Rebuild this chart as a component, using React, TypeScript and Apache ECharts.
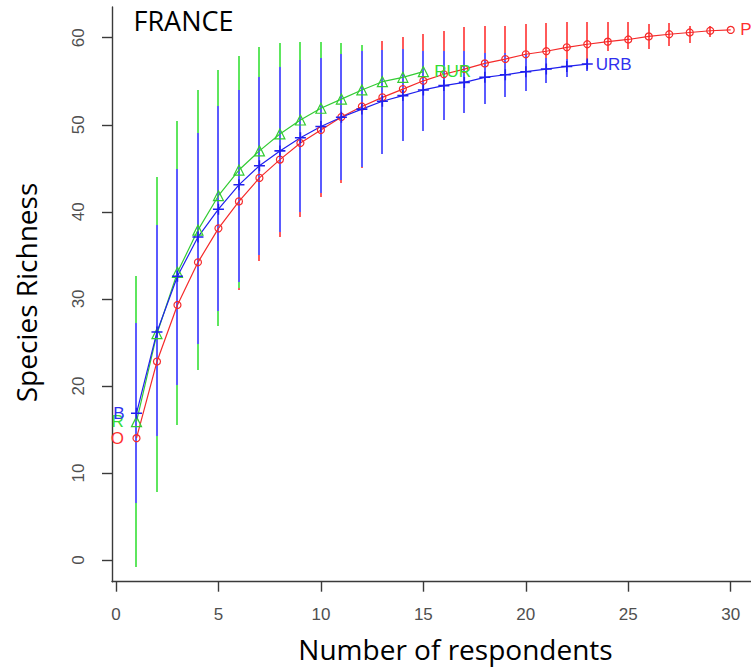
import React, { useEffect, useRef } from "react";
import * as echarts from "echarts";

// ---- data ----
const respondents = [1, 2, 3, 4, 5, 6, 7, 8, 9, 10, 11, 12, 13, 14, 15, 16, 17, 18, 19, 20, 21, 22, 23, 24, 25, 26, 27, 28, 29, 30];

// red series (circles)
const redMean = [14.0, 22.8, 29.3, 34.2, 38.1, 41.2, 43.9, 46.0, 47.9, 49.4, 50.9, 52.1, 53.15, 54.1, 55.05, 55.8, 56.4, 57.05, 57.55, 58.1, 58.45, 58.9, 59.25, 59.55, 59.8, 60.15, 60.4, 60.6, 60.8, 60.9];
const redUpper = [30.0, 40.0, 48.0, 52.0, 55.0, 57.0, 58.3, 58.9, 59.2, 59.3, 59.3, 59.1, 59.65, 60.05, 60.45, 60.75, 61.2, 61.4, 61.4, 61.55, 61.7, 61.75, 61.85, 61.85, 61.85, 61.55, 61.7, 61.4, 61.4, 60.9];
const redLower = [5.0, 13.0, 20.0, 25.5, 29.0, 31.05, 34.3, 37.1, 39.45, 41.7, 43.3, 45.0, 46.9, 48.3, 49.5, 50.7, 51.6, 52.6, 53.5, 54.3, 55.2, 56.0, 57.0, 58.5, 58.7, 58.7, 59.1, 59.4, 60.05, 60.9];

// green series (RUR, triangles)
const rurMean = [15.9, 26.0, 33.05, 37.9, 41.85, 44.8, 47.0, 48.95, 50.55, 51.9, 52.95, 54.0, 54.95, 55.45, 56.1];
const rurUpper = [32.6, 44.0, 50.4, 54.0, 56.3, 57.9, 58.9, 59.38, 59.54, 59.54, 59.4, 59.17, 58.6, 58.6, 58.4];
const rurLower = [-0.8, 7.85, 15.5, 21.8, 26.85, 31.25, 35.3, 38.0, 40.2, 42.5, 43.9, 45.4, 47.0, 48.4, 49.5];

// blue series (URB, plus signs)
const urbMean = [16.85, 26.2, 32.6, 37.1, 40.3, 43.1, 45.3, 47.0, 48.5, 49.8, 50.86, 51.8, 52.7, 53.35, 54.0, 54.5, 54.87, 55.45, 55.75, 56.1, 56.4, 56.7, 56.97];
const urbUpper = [27.2, 38.5, 44.9, 49.1, 52.1, 54.0, 55.5, 56.65, 57.4, 57.72, 58.1, 58.5, 58.55, 58.7, 58.5, 58.5, 58.5, 58.3, 58.3, 58.1, 57.7, 57.55, 57.4];
const urbLower = [6.5, 14.3, 20.1, 24.85, 28.55, 31.9, 35.0, 37.7, 39.95, 42.2, 43.6, 45.1, 46.7, 48.1, 49.25, 50.5, 51.4, 52.35, 53.15, 53.9, 54.75, 55.45, 56.2];

const xTicks = [0, 5, 10, 15, 20, 25, 30];
const yTicks = [0, 10, 20, 30, 40, 50, 60];

const labelsStart = { red: "O", rur: "R", urb: "B" };
const labelsEnd = { red: "P", rur: "RUR", urb: "URB" };

const TITLE = "FRANCE";
const X_TITLE = "Number of respondents";
const Y_TITLE = "Species Richness";

const PLUS = "path://M0,4.3H10V5.7H0Z M4.3,0H5.7V10H4.3Z";

function lineSeries(
  means: number[],
  lineColor: string,
  symbol: string,
  size: number,
  hollow: boolean,
  startLabel: string,
  endLabel: string,
  textColor: string,
  startDist: number,
  endDist: number
) {
  const labelStyle = {
    color: textColor,
    fontSize: 17,
    fontFamily: "Liberation Sans, Arial, sans-serif",
  };
  const data = means.map((v, i) => {
    const item: any = { value: [respondents[i], v] };
    if (i === 0) {
      item.label = { show: true, position: "left", distance: startDist, formatter: startLabel, ...labelStyle };
    }
    if (i === means.length - 1) {
      item.label = { show: true, position: "right", distance: endDist, formatter: endLabel, ...labelStyle };
    }
    return item;
  });
  return {
    type: "line",
    data,
    symbol,
    symbolSize: size,
    showSymbol: true,
    lineStyle: { color: lineColor, width: 1.2 },
    itemStyle: hollow
      ? { color: "rgba(255,255,255,0)", borderColor: lineColor, borderWidth: 1.2 }
      : { color: lineColor, borderWidth: 0 },
    label: { show: false },
    emphasis: { disabled: true },
    silent: true,
    clip: true,
    z: 2,
  };
}

function barSeries(means: number[], lower: number[], upper: number[], color: string) {
  const data = means.map((_, i) => [respondents[i], lower[i], upper[i]]);
  return {
    type: "custom",
    data,
    clip: true,
    silent: true,
    z: 2,
    encode: { x: 0, y: [1, 2] },
    renderItem: (params: any, api: any) => {
      const x = api.value(0);
      const lo = api.value(1);
      const hi = api.value(2);
      if (hi - lo <= 0) return null;
      const p1 = api.coord([x, lo]);
      const p2 = api.coord([x, hi]);
      const px = Math.round(p1[0]);
      return {
        type: "line",
        shape: { x1: px, y1: Math.round(p1[1]), x2: px, y2: Math.round(p2[1]) },
        style: { stroke: color, lineWidth: 2 },
      };
    },
  };
}

export default function App() {
  const ref = useRef<HTMLDivElement>(null);
  useEffect(() => {
    if (!ref.current) return;
    const chart = echarts.init(ref.current, undefined, { renderer: "svg" });
    const axisColor = "#3a3a3a";
    const tickLabelColor = "#4f4f4f";
    const tickFont = "Liberation Sans, Arial, sans-serif";
    chart.setOption({
      animation: false,
      backgroundColor: "#ffffff",
      grid: { left: 112, top: 7, width: 639, height: 574.7, containLabel: false },
      xAxis: {
        type: "value",
        min: -0.195,
        max: 30.99,
        axisLine: { show: true, onZero: false, lineStyle: { color: axisColor, width: 1.4 } },
        axisTick: { show: true, length: 10, customValues: xTicks, lineStyle: { color: axisColor, width: 1.4 } },
        axisLabel: { show: true, customValues: xTicks, margin: 24, fontSize: 17, fontFamily: tickFont, color: tickLabelColor },
        splitLine: { show: false },
      },
      yAxis: {
        type: "value",
        min: -2.49,
        max: 63.53,
        axisLine: { show: true, onZero: false, lineStyle: { color: axisColor, width: 1.4 } },
        axisTick: { show: true, length: 10, customValues: yTicks, lineStyle: { color: axisColor, width: 1.4 } },
        axisLabel: { show: true, customValues: yTicks, rotate: 90, margin: 25, fontSize: 17, fontFamily: tickFont, color: tickLabelColor },
        splitLine: { show: false },
      },
      graphic: [
        {
          type: "text",
          x: 133.5,
          y: 20,
          style: { text: TITLE, fontSize: 27, fontFamily: "Open Sans", fill: "#000", align: "left", verticalAlign: "middle" },
        },
        {
          type: "text",
          x: 455.5,
          y: 649,
          style: { text: X_TITLE, fontSize: 28, fontFamily: "Open Sans", fill: "#000", align: "center", verticalAlign: "middle" },
        },
        {
          type: "text",
          x: 26,
          y: 292.5,
          rotation: Math.PI / 2,
          style: { text: Y_TITLE, fontSize: 28, fontFamily: "Open Sans", fill: "#000", align: "center", verticalAlign: "middle" },
        },
      ],
      series: [
        lineSeries(redMean, "#f52a2a", "circle", 7, true, labelsStart.red, labelsEnd.red, "#ff3030", 8.5, 5.5),
        barSeries(redMean, redLower, redUpper, "#ff5a5a"),
        lineSeries(rurMean, "#33cc33", "triangle", 10, true, labelsStart.rur, labelsEnd.rur, "#33dd33", 7, 5.3),
        barSeries(rurMean, rurLower, rurUpper, "#5ee65e"),
        lineSeries(urbMean, "#2020ee", PLUS, 11, false, labelsStart.urb, labelsEnd.urb, "#3030ee", 6.5, 3),
        barSeries(urbMean, urbLower, urbUpper, "#5b5bff"),
      ],
    });
    return () => chart.dispose();
  }, []);
  return <div ref={ref} style={{ position: "fixed", left: 0, top: 0, width: 751, height: 667 }} />;
}
